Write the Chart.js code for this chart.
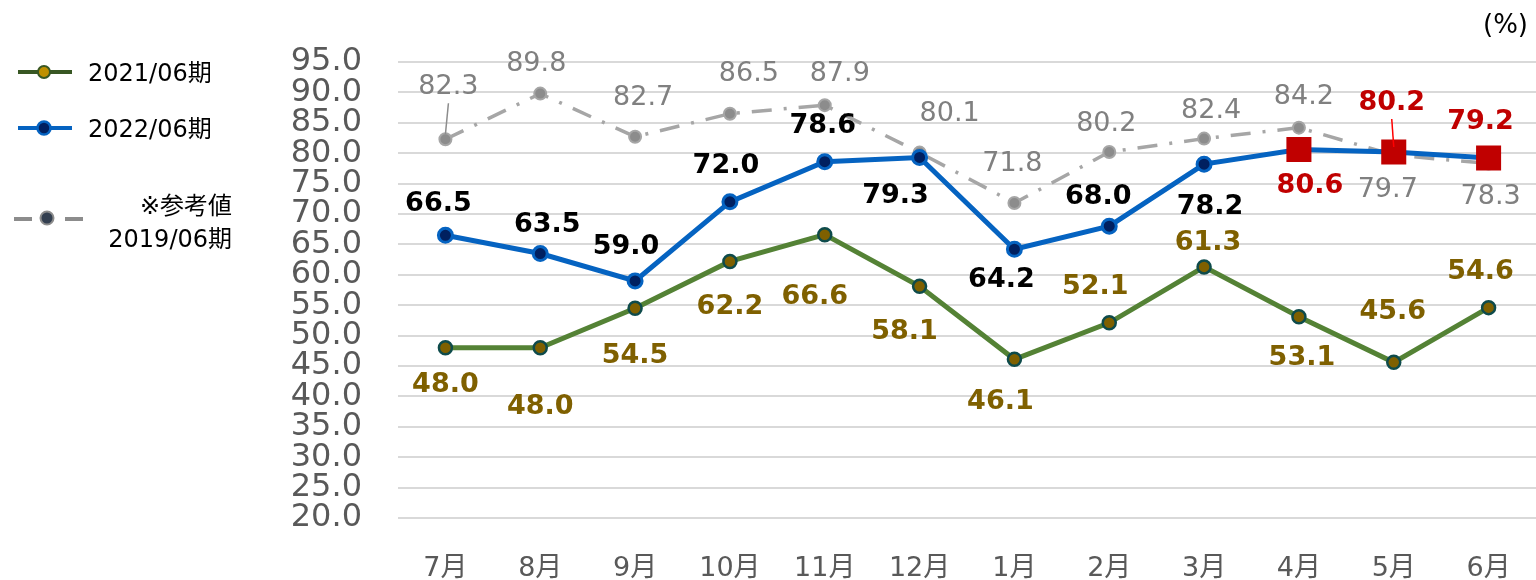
<!DOCTYPE html>
<html><head><meta charset="utf-8">
<script src="https://cdn.jsdelivr.net/npm/chart.js@4.4.0/dist/chart.umd.min.js"></script>
<style>html,body{margin:0;padding:0;background:#fff;overflow:hidden}canvas{display:block}</style>
</head><body>
<canvas id="c" width="1536" height="580"></canvas>
<script>
// ---- data ----
const categories = ['7月','8月','9月','10月','11月','12月','1月','2月','3月','4月','5月','6月'];
const fy2021 = [48.0, 48.0, 54.5, 62.2, 66.6, 58.1, 46.1, 52.1, 61.3, 53.1, 45.6, 54.6];
const fy2022 = [66.5, 63.5, 59.0, 72.0, 78.6, 79.3, 64.2, 68.0, 78.2, 80.6, 80.2, 79.2];
const fy2019 = [82.3, 89.8, 82.7, 86.5, 87.9, 80.1, 71.8, 80.2, 82.4, 84.2, 79.7, 78.3];
const seriesNames = ['2021/06期', '2022/06期', '※参考値', '2019/06期'];
const yMin = 20, yMax = 95, yStep = 5;
const highlightFrom = 9; // 4月 onward shown as red squares

// ---- label placement (pixel offsets from each point) ----
const off2021 = [[0,37],[0,59],[0,48],[0,46],[-10,62],[-15,46],[-14,43],[-14,-36],[4,-24],[3,41],[-1,-50],[-8,-36]];
const off2022 = [[-7,-31],[7,-29],[-9,-34],[-4,-36],[-2,-36],[-24,39],[-13,31],[-11,-29],[6,43],[11,36],[-2,-49],[-8,-36]];
const off2019 = [[3,-52],[-4,-30],[8,-39],[19,-40],[15,-31],[30,-39],[-2,-39],[-3,-28],[7,-28],[5,-31],[-6,35],[2,33]];

const FONT = '"DejaVu Sans", "Noto Sans CJK JP", sans-serif';
const GREEN = '#548235', GOLD = '#7f6000', TEAL = '#0e4b4b';
const BLUE = '#0563c1', NAVY = '#002060', GRAY = '#a6a6a6', RED = '#c00000';

const labelPlugin = {
  id: 'labels',
  afterDatasetsDraw(chart) {
    const ctx = chart.ctx;
    ctx.save();
    ctx.textAlign = 'center';
    ctx.textBaseline = 'middle';
    chart.data.datasets.forEach((ds, di) => {
      const meta = chart.getDatasetMeta(di);
      meta.data.forEach((pt, i) => {
        const o = ds.labelOffsets[i];
        const x = pt.x + o[0], y = pt.y + o[1];
        let color = ds.labelColor;
        if (ds.highlight && i >= highlightFrom) color = RED;
        ctx.font = (ds.labelBold ? 'bold ' : '') + '27px ' + FONT;
        ctx.fillStyle = color;
        ctx.fillText(ds.data[i].toFixed(1), x, y);
        if (ds.leaders && ds.leaders.includes(i)) {
          ctx.strokeStyle = ds.leaderColor || '#7f7f7f';
          ctx.lineWidth = 1.5;
          ctx.beginPath();
          ctx.moveTo(x, y + 16);
          ctx.lineTo(pt.x, pt.y - 5);
          ctx.stroke();
        }
      });
    });
    ctx.restore();
  },
  afterDraw(chart) {
    const ctx = chart.ctx;
    ctx.save();
    // (%)
    ctx.font = '26px ' + FONT;
    ctx.fillStyle = '#000';
    ctx.textAlign = 'right';
    ctx.textBaseline = 'middle';
    ctx.fillText('(%)', 1528, 26);
    // legend
    ctx.textAlign = 'left';
    ctx.font = '24px ' + FONT;
    // green
    ctx.strokeStyle = '#385723'; ctx.lineWidth = 4; ctx.setLineDash([]);
    ctx.beginPath(); ctx.moveTo(18, 72); ctx.lineTo(72, 72); ctx.stroke();
    ctx.beginPath(); ctx.arc(44, 72, 6, 0, Math.PI*2);
    ctx.fillStyle = '#bf9000'; ctx.fill(); ctx.lineWidth = 2; ctx.strokeStyle = '#385723'; ctx.stroke();
    ctx.fillStyle = '#000'; ctx.fillText(seriesNames[0], 88, 75);
    // blue
    ctx.strokeStyle = BLUE; ctx.lineWidth = 4;
    ctx.beginPath(); ctx.moveTo(18, 128); ctx.lineTo(72, 128); ctx.stroke();
    ctx.beginPath(); ctx.arc(44, 128, 6.5, 0, Math.PI*2);
    ctx.fillStyle = NAVY; ctx.fill(); ctx.lineWidth = 2.5; ctx.strokeStyle = BLUE; ctx.stroke();
    ctx.fillStyle = '#000'; ctx.fillText(seriesNames[1], 88, 131);
    // gray
    ctx.strokeStyle = '#8c8c8c'; ctx.lineWidth = 4;
    ctx.beginPath(); ctx.moveTo(14, 219); ctx.lineTo(32, 219); ctx.moveTo(65, 219); ctx.lineTo(83, 219); ctx.stroke();
    ctx.beginPath(); ctx.arc(47, 218, 6.5, 0, Math.PI*2);
    ctx.fillStyle = '#333f50'; ctx.fill(); ctx.lineWidth = 2; ctx.strokeStyle = '#8c8c8c'; ctx.stroke();
    ctx.fillStyle = '#000'; ctx.textAlign = 'right';
    ctx.fillText(seriesNames[2], 232, 208);
    ctx.fillText(seriesNames[3], 232, 241);
    ctx.restore();
  }
};

new Chart(document.getElementById('c'), {
  type: 'line',
  data: {
    labels: categories,
    datasets: [
      {
        label: seriesNames[1], data: fy2022, order: 0,
        borderColor: BLUE, borderWidth: 5,
        pointStyle: c => c.dataIndex >= highlightFrom ? 'rect' : 'circle',
        pointRadius: c => c.dataIndex >= highlightFrom ? 17.7 : 7,
        pointBackgroundColor: c => c.dataIndex >= highlightFrom ? RED : NAVY,
        pointBorderColor: c => c.dataIndex >= highlightFrom ? RED : BLUE,
        pointBorderWidth: c => c.dataIndex >= highlightFrom ? 0 : 3,
        labelOffsets: off2022, labelColor: '#000', labelBold: true, highlight: true,
        leaders: [10], leaderColor: '#ff0000'
      },
      {
        label: seriesNames[0], data: fy2021, order: 1,
        borderColor: GREEN, borderWidth: 5,
        pointStyle: 'circle', pointRadius: 6.5,
        pointBackgroundColor: GOLD, pointBorderColor: TEAL, pointBorderWidth: 2.5,
        labelOffsets: off2021, labelColor: GOLD, labelBold: true
      },
      {
        label: seriesNames[3], data: fy2019, order: 2,
        borderColor: GRAY, borderWidth: 3.5, borderDash: [20, 12, 3, 12],
        pointStyle: 'circle', pointRadius: 6,
        pointBackgroundColor: '#8c8c8c', pointBorderColor: GRAY, pointBorderWidth: 2,
        labelOffsets: off2019, labelColor: '#808080', labelBold: false,
        leaders: [0], leaderColor: '#8c8c8c'
      }
    ]
  },
  options: {
    responsive: false, animation: false,
    layout: { autoPadding: false, padding: { top: 62, left: 0, right: 0, bottom: 0 } },
    plugins: { legend: { display: false }, tooltip: { enabled: false } },
    scales: {
      x: {
        offset: true,
        grid: { display: false, drawTicks: false },
        border: { display: false },
        ticks: { font: { family: FONT, size: 27 }, color: '#595959', padding: 35, maxRotation: 0 },
        afterFit(s) { s.height = 62; s.paddingLeft = 0; s.paddingRight = 0; }
      },
      y: {
        min: yMin, max: yMax,
        grid: { color: '#d9d9d9', lineWidth: 2, drawTicks: false },
        border: { display: false },
        ticks: {
          stepSize: yStep, autoSkip: false, padding: 36,
          font: { family: FONT, size: 32 }, color: '#595959',
          callback: v => Number(v).toFixed(1)
        },
        afterFit(s) { s.width = 398; }
      }
    }
  },
  plugins: [labelPlugin]
});
</script>
</body></html>
